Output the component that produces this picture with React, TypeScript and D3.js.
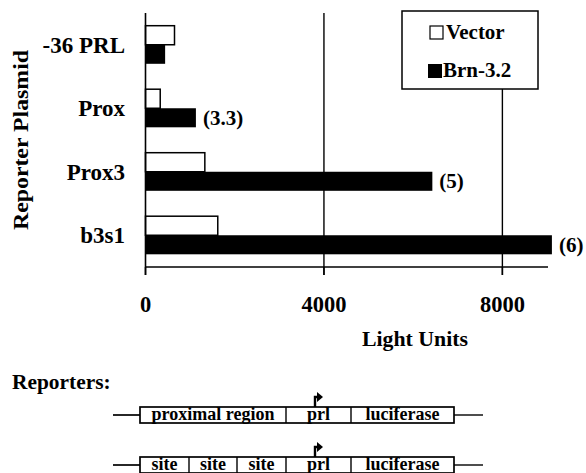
import React from 'react';
import * as d3 from 'd3';

// values
const categories = ['-36 PRL', 'Prox', 'Prox3', 'b3s1'];
const vectorValues = [650, 330, 1330, 1620];
const brnValues = [440, 1130, 6430, 9110];
const foldLabels = ['', '(3.3)', '(5)', '(6)'];
const xTicks = [0, 4000, 8000];
const seriesNames = ['Vector', 'Brn-3.2'];

// reporter constructs drawn under the chart
const reporter1 = ['proximal region', 'prl', 'luciferase'];
const reporter2 = ['site', 'site', 'site', 'prl', 'luciferase'];
const reporter1Edges = [140, 286, 351, 454];
const reporter2Edges = [140, 189, 237, 286, 351, 454];

const W = 586, H = 473;
const margin = {top: 13, left: 145.5, right: 39, bottom: 206};
const font = '"Liberation Serif", "Times New Roman", Times, serif';
const txt = {fontFamily: font, fontWeight: 'bold' as const};

const Construct = ({labels, edges, top}: {labels: string[]; edges: number[]; top: number}) => {
    const h = 16;
    const mid = top + h / 2;
    const prlIdx = labels.indexOf('prl');
    const ax = edges[prlIdx] + 29;
    return (
        <g>
            <line x1={113} x2={edges[0]} y1={mid} y2={mid} stroke="#000" strokeWidth={1.7}/>
            <line x1={edges[edges.length - 1]} x2={483} y1={mid} y2={mid} stroke="#000" strokeWidth={1.4}/>
            <rect x={edges[0]} y={top} width={edges[edges.length - 1] - edges[0]} height={h}
                  fill="#fff" stroke="#000" strokeWidth={1.7}/>
            {labels.map((l, i) => (
                <g key={i}>
                    {i > 0 && <line x1={edges[i]} x2={edges[i]} y1={top} y2={top + h} stroke="#000" strokeWidth={1.4}/>}
                    <text x={(edges[i] + edges[i + 1]) / 2} y={top + 13} textAnchor="middle"
                          fontSize={18} style={txt}>{l}</text>
                </g>
            ))}
            <path d={`M${ax},${top} V${top - 10} H${ax + 3}`} fill="none" stroke="#000" strokeWidth={2.4}/>
            <path d={`M${ax + 2},${top - 15} L${ax + 8},${top - 10} L${ax + 2},${top - 5} Z`} fill="#000"/>
        </g>
    );
};

export default function App() {
    const x = d3.scaleLinear().domain([0, 9000]).range([margin.left, W - margin.right]);
    const y = d3.scaleBand().domain(categories).range([margin.top, H - margin.bottom])
        .paddingInner(0.4).paddingOuter(0.2);
    const sub = d3.scaleBand().domain(seriesNames).range([0, y.bandwidth()]);
    const axisY = H - margin.bottom;

    const rows = categories.map((c, i) => ({c, v: vectorValues[i], b: brnValues[i], f: foldLabels[i]}));

    return (
        <svg width={W} height={H} style={{position: 'absolute', left: 0, top: 0, background: '#fff'}}>
            {/* grid lines */}
            <line x1={x(4000)} x2={x(4000)} y1={margin.top} y2={axisY + 8} stroke="#000" strokeWidth={1.4}/>
            <line x1={x(8000)} x2={x(8000)} y1={89} y2={axisY + 8} stroke="#000" strokeWidth={1.4}/>

            {rows.map((d, i) => (
                <g key={i}>
                    <rect x={x(0)} y={y(d.c)! + sub('Vector')!} width={x(d.v) - x(0)} height={sub.bandwidth()}
                          fill="#fff" stroke="#000" strokeWidth={1.5}/>
                    <rect x={x(0)} y={y(d.c)! + sub('Brn-3.2')!} width={x(d.b) - x(0)} height={sub.bandwidth()}
                          fill="#000"/>
                    <text x={x(d.b) + 7} y={y(d.c)! + sub('Brn-3.2')! + sub.bandwidth() / 2 + 7}
                          fontSize={21} style={txt}>{d.f}</text>
                    <text x={125} y={y(d.c)! + y.bandwidth() / 2 + 8} textAnchor="end"
                          fontSize={23} style={txt}>{d.c}</text>
                </g>
            ))}

            {/* axes */}
            <line x1={x(0)} x2={x(0)} y1={margin.top} y2={axisY + 8} stroke="#000" strokeWidth={1.6}/>
            <line x1={x(0)} x2={548} y1={axisY} y2={axisY} stroke="#000" strokeWidth={1.5}/>
            {xTicks.map(t => (
                <g key={t}>
                    <line x1={x(t)} x2={x(t)} y1={axisY} y2={axisY + 8} stroke="#000" strokeWidth={1.5}/>
                    <text x={x(t)} y={312} textAnchor="middle" fontSize={22.5} style={txt}>{t}</text>
                </g>
            ))}
            <text x={415} y={346} textAnchor="middle" fontSize={21.8} style={txt}>Light Units</text>
            <text transform={`translate(28,${140}) rotate(-90)`} textAnchor="middle" fontSize={22}
                  style={txt} textLength={180} lengthAdjust="spacingAndGlyphs">Reporter Plasmid</text>

            {/* legend */}
            <rect x={402} y={11} width={136} height={78} fill="#fff" stroke="#000" strokeWidth={1.5}/>
            <rect x={430} y={26} width={13} height={13} fill="#fff" stroke="#000" strokeWidth={1.2}/>
            <text x={446} y={39} fontSize={21} style={txt}>Vector</text>
            <rect x={428} y={64} width={14} height={14} fill="#000"/>
            <text x={443} y={77} fontSize={21} style={txt}>Brn-3.2</text>

            {/* reporter schematics */}
            <text x={12} y={389} fontSize={21.4} style={txt}>Reporters:</text>
            <Construct labels={reporter1} edges={reporter1Edges} top={407}/>
            <Construct labels={reporter2} edges={reporter2Edges} top={457}/>
        </svg>
    );
}
